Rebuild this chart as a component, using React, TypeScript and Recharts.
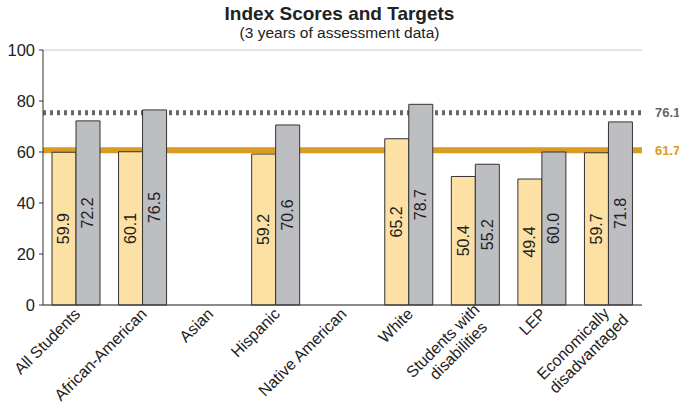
import React from "react";
import {
  BarChart, Bar, XAxis, YAxis, CartesianGrid, ReferenceLine, LabelList,
} from "recharts";

const groups = [
  "All Students",
  "African-American",
  "Asian",
  "Hispanic",
  "Native American",
  "White",
  "Students with\ndisabilities",
  "LEP",
  "Economically\ndisadvantaged",
];
const scores = [59.9, 60.1, null, 59.2, null, 65.2, 50.4, 49.4, 59.7];
const targets = [72.2, 76.5, null, 70.6, null, 78.7, 55.2, 60.0, 71.8];
const yTicks = [0, 20, 40, 60, 80, 100];

// where the two lines sit vs. the numbers printed next to them
const dottedAt = 75.4;
const dottedLabel = "76.1";
const goldAt = 60.7;
const goldLabel = "61.7";

const data = groups.map((g, i) => ({ name: g, score: scores[i], target: targets[i] }));

const font = "'Liberation Sans', Arial, sans-serif";
const gold = "#D99B22";

let ctx: CanvasRenderingContext2D | null = null;
function textWidth(s: string, size: number) {
  if (!ctx) ctx = document.createElement("canvas").getContext("2d");
  if (!ctx) return s.length * size * 0.5;
  ctx.font = `${size}px ${font}`;
  return ctx.measureText(s).width;
}

function GroupTick(props: any) {
  const { x, y, payload } = props;
  const lines = String(payload.value).split("\n");
  const size = 16;
  const multi = lines.length > 1;
  const maxW = Math.max(...lines.map((l) => textWidth(l, size)));
  return (
    <g transform={`translate(${x + 1},${y - 2}) rotate(-45)`}>
      {lines.map((l, i) => (
        <text
          key={i}
          x={multi ? -maxW / 2 + 3 + i * 4 : 0}
          y={multi ? -3 + i * 18 : 0}
          dy="0.35em"
          textAnchor={multi ? "middle" : "end"}
          fontSize={size}
          fontFamily={font}
          fill="#222"
        >
          {l}
        </text>
      ))}
    </g>
  );
}

function InsideLabel(props: any) {
  const { x, y, width, height, value } = props;
  if (value == null) return null;
  const cx = x + width / 2;
  const cy = y + height / 2;
  return (
    <text
      x={cx}
      y={cy}
      transform={`rotate(-90 ${cx} ${cy})`}
      textAnchor="middle"
      dominantBaseline="central"
      fontSize={16}
      fontFamily={font}
      fill="#222"
    >
      {Number(value).toFixed(1)}
    </text>
  );
}

function SideLabel({ viewBox, text, color }: any) {
  const { x, y, width } = viewBox;
  return (
    <text
      x={x + width + 13}
      y={y}
      dominantBaseline="central"
      fontSize={13}
      fontWeight="bold"
      fontFamily={font}
      fill={color}
    >
      {text}
    </text>
  );
}

export default function App() {
  return (
    <div style={{ position: "absolute", left: 0, top: 0, width: 679, height: 403, background: "#fff", fontFamily: font }}>
      <div style={{ position: "absolute", left: 0, width: 679, top: 4, lineHeight: "20px", textAlign: "center", fontSize: 19, fontWeight: "bold", color: "#222" }}>
        Index Scores and Targets
      </div>
      <div style={{ position: "absolute", left: 0, width: 679, top: 24, lineHeight: "18px", textAlign: "center", fontSize: 15.5, color: "#222" }}>
        (3 years of assessment data)
      </div>
      <BarChart
        width={679}
        height={403}
        data={data}
        margin={{ top: 50, right: 37, left: 0, bottom: 0 }}
        barSize={24}
        barGap={0}
        style={{ position: "absolute", left: 0, top: 0 }}
      >
        <CartesianGrid vertical={false} stroke="#c8c8c8" />
        <XAxis
          dataKey="name"
          interval={0}
          height={98}
          tickLine={false}
          axisLine={{ stroke: "#333" }}
          tick={<GroupTick />}
        />
        <YAxis
          yAxisId="l"
          domain={[0, 100]}
          ticks={yTicks}
          width={43}
          tickSize={4}
          tickMargin={4}
          axisLine={{ stroke: "#333" }}
          tickLine={{ stroke: "#333" }}
          tick={{ fontSize: 16.5, fill: "#222", fontFamily: font }}
        />
        <YAxis yAxisId="r" orientation="right" domain={[0, 100]} width={0} tick={false} tickLine={false} axisLine={{ stroke: "#333" }} />
        <ReferenceLine
          yAxisId="l"
          y={goldAt}
          stroke={gold}
          strokeWidth={6}
          zIndex={-50}
          label={<SideLabel text={goldLabel} color={gold} />}
        />
        <ReferenceLine
          yAxisId="l"
          y={dottedAt}
          stroke="#666"
          strokeWidth={5}
          strokeDasharray="3 4"
          zIndex={-50}
          label={<SideLabel text={dottedLabel} color="#666" />}
        />
        <Bar yAxisId="l" dataKey="score" fill="#FDE0A3" stroke="#333" strokeWidth={1} isAnimationActive={false}>
          <LabelList dataKey="score" content={<InsideLabel />} />
        </Bar>
        <Bar yAxisId="l" dataKey="target" fill="#BDBEC2" stroke="#333" strokeWidth={1} isAnimationActive={false}>
          <LabelList dataKey="target" content={<InsideLabel />} />
        </Bar>
      </BarChart>
    </div>
  );
}
